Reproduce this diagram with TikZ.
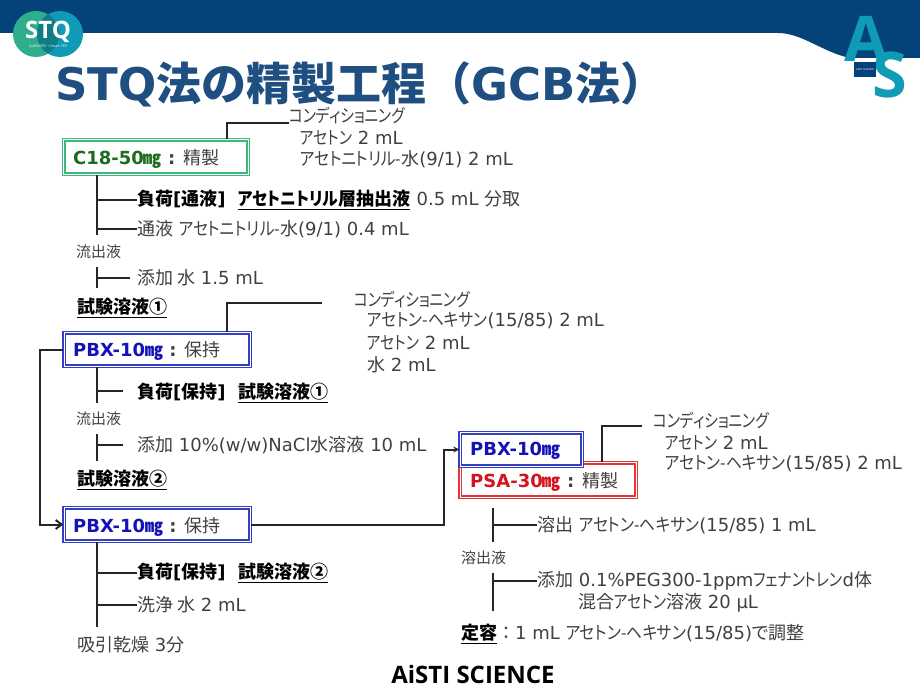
\documentclass[tikz,border=0pt]{standalone}
\usepackage{fontspec}
\usetikzlibrary{arrows.meta}
\setmainfont{DejaVu Sans}
\newfontfamily\jpfont{Noto Sans CJK JP}[RawFeature=+palt]
\newfontfamily\widefont{Noto Sans CJK JP}
\newfontfamily\kanafont{Noto Sans CJK JP}[RawFeature=+palt,FakeStretch=0.875]
\newfontfamily\narrowfont{Noto Sans CJK JP}[RawFeature=+palt,FakeStretch=0.82]
\newfontfamily\logofont{Open Sans}
\newcommand{\jp}[1]{{\jpfont #1}}
\newcommand{\jpw}[1]{{\widefont #1}}
\newcommand{\kn}[1]{{\kanafont #1}}
\newcommand{\knn}[1]{{\narrowfont #1}}
\definecolor{bandblue}{HTML}{04437A}
\definecolor{titleblue}{HTML}{1F4E80}
\definecolor{logoteal}{HTML}{0F9AB5}
\definecolor{logogreen}{HTML}{2FAE8E}
\definecolor{logodark}{HTML}{0E7C86}
\definecolor{boxgreen}{HTML}{3DB87E}
\definecolor{boxblue}{HTML}{3340C0}
\definecolor{boxred}{HTML}{E2363C}
\definecolor{txtgreen}{HTML}{1E6B1E}
\definecolor{txtblue}{HTML}{1414B4}
\definecolor{txtred}{HTML}{D41420}
\definecolor{txtgray}{HTML}{404040}
\tikzset{
  txt/.style={anchor=west,inner sep=0pt,text=txtgray,font=\fontsize{18}{20}\selectfont},
  small/.style={txt,font=\fontsize{15}{17}\selectfont},
  strong/.style={txt,text=black,font=\fontsize{18}{20}\selectfont\bfseries},
  colbox/.style={draw=#1,double=white,double distance=1pt,line width=1.4pt,fill=white,inner sep=0pt},
  conn/.style={line width=2pt,black!85},
  arra/.style={conn,-{Straight Barb[length=6pt,width=9pt]}},
  arrb/.style={conn,-{Stealth[length=6pt,width=6pt]}}
}
\begin{document}
\begin{tikzpicture}[x=1pt,y=-1pt]
  \useasboundingbox (0,0) rectangle (920,690);
  % Header
  \fill[bandblue] (0,0) -- (920,0) -- (920,58) -- (850,58) .. controls (822,52) and (802,33) .. (778,33) -- (0,33) -- cycle;
  \fill[logogreen] (36,34) circle (23);
  \fill[logoteal] (60,34) circle (23);
  \begin{scope}
    \clip (36,34) circle (23);
    \fill[logodark] (60,34) circle (23);
  \end{scope}
  \node[anchor=center,inner sep=0pt,text=white,font=\logofont\fontsize{24}{24}\selectfont\bfseries] (stq) at (48,32) {STQ};
  \node[anchor=center,inner sep=0pt,text=white,font=\logofont\fontsize{3.5}{4}\selectfont] (stqsub) at (48,46) {QuEChERS + Smart SPE};
  \node[anchor=base,inner sep=0pt,text=logoteal,font=\logofont\fontsize{63}{63}\selectfont\bfseries] (logoa) at (866,62) {A};
  \node[anchor=base,inner sep=0pt,text=logoteal,font=\logofont\fontsize{63}{63}\selectfont\bfseries] (logos) at (890,98) {S};
  \node[fill=bandblue,minimum width=22pt,minimum height=15pt,inner sep=0pt,text=white,font=\fontsize{2.5}{3}\selectfont] (logobox) at (865,69.5) {AISTI SCIENCE};
  \node[anchor=west,inner sep=0pt,text=titleblue,font=\fontsize{45}{50}\selectfont\bfseries] (title) at (55,84) {STQ\jpw{法の精製工程（}GCB\jpw{法）}};

  % Boxes
  \node[colbox=boxgreen,minimum width=184.5pt,minimum height=34.5pt] (c18) at (156,157) {};
  \node[colbox=boxblue,minimum width=186pt,minimum height=33.5pt] (pbxa) at (157,349.5) {};
  \node[colbox=boxblue,minimum width=186pt,minimum height=33.5pt] (pbxb) at (157,524.5) {};
  \node[colbox=boxred,minimum width=176pt,minimum height=34.5pt] (psa) at (548,480) {};
  \node[colbox=boxblue,minimum width=122pt,minimum height=33.5pt] (pbxc) at (521,449.5) {};
  \node[strong] (c18t) at (73,158.5) {\textcolor{txtgreen}{C18-50\jp{㎎}}\ \textcolor{txtgray}{:} \textcolor{txtgray}{\jp{\mdseries 精製}}};
  \node[strong] (pbxat) at (73,350.5) {\textcolor{txtblue}{PBX-10\jp{㎎}}\ \textcolor{txtgray}{:} \textcolor{txtgray}{\jp{\mdseries 保持}}};
  \node[strong] (pbxbt) at (73,526.5) {\textcolor{txtblue}{PBX-10\jp{㎎}}\ \textcolor{txtgray}{:} \textcolor{txtgray}{\jp{\mdseries 保持}}};
  \node[strong] (pbxct) at (470,450.5) {\textcolor{txtblue}{PBX-10\jp{㎎}}};
  \node[strong] (psat) at (470,481.5) {\textcolor{txtred}{PSA-30\jp{㎎}}\ \textcolor{txtgray}{:} \textcolor{txtgray}{\jp{\mdseries 精製}}};

  % Texts, first column
  \node[txt] (conda) at (289,116) {\knn{コンディショニング}};
  \node[txt] (condab) at (300,138) {\knn{アセトン} 2 mL};
  \node[txt] (condac) at (300,159) {\kn{アセトニトリル-}\jp{水}(9/1) 2 mL};
  \node[strong] (loada) at (137,200) {\jp{負荷}[\jp{通液}]\ \ \underline{\kn{アセトニトリル}\jp{層抽出液}} \textmd{\textcolor{txtgray}{0.5 mL \jp{分取}}}};
  \node[txt] (passa) at (137,229) {\jp{通液} \kn{アセトニトリル-}\jp{水}(9/1) 0.4 mL};
  \node[small] (outa) at (76,252) {\jp{流出液}};
  \node[txt] (adda) at (137,278) {\jp{添加 水} 1.5 mL};
  \node[strong] (sola) at (77,308) {\underline{\jp{試験溶液①}}};
  \node[txt] (condb) at (354,300) {\knn{コンディショニング}};
  \node[txt] (condbb) at (367,321) {\kn{アセトン-ヘキサン}(15/85) 2 mL};
  \node[txt] (condbc) at (367,343) {\knn{アセトン} 2 mL};
  \node[txt] (condbd) at (367,365) {\jp{水} 2 mL};
  \node[strong] (loadb) at (137,393) {\jp{負荷}[\jp{保持}]\ \ \underline{\jp{試験溶液①}}};
  \node[small] (outb) at (76,419) {\jp{流出液}};
  \node[txt] (addb) at (137,445) {\jp{添加} 10\%(w/w)NaCl\jp{水溶液} 10 mL};
  \node[strong] (solb) at (77,480) {\underline{\jp{試験溶液②}}};
  \node[strong] (loadc) at (137,573) {\jp{負荷}[\jp{保持}]\ \ \underline{\jp{試験溶液②}}};
  \node[txt] (wash) at (137,605) {\jp{洗浄 水} 2 mL};
  \node[txt] (dry) at (77,645) {\jp{吸引乾燥} 3\jp{分}};

  % Texts, right column
  \node[txt] (condc) at (653,421) {\knn{コンディショニング}};
  \node[txt] (condcb) at (665,443) {\knn{アセトン} 2 mL};
  \node[txt] (condcc) at (665,464) {\kn{アセトン-ヘキサン}(15/85) 2 mL};
  \node[txt] (elute) at (537,525) {\jp{溶出} \kn{アセトン-ヘキサン}(15/85) 1 mL};
  \node[small] (outc) at (461,558) {\jp{溶出液}};
  \node[txt] (addc) at (537,581) {\jp{添加} 0.1\%PEG300-1ppm\knn{フェナントレン}d\jp{体}};
  \node[txt] (addcb) at (578,603) {\jp{混合}\knn{アセトン}\jp{溶液} 20 μL};
  \node[txt] (fix) at (461,634) {\textcolor{black}{\textbf{\underline{\jp{定容}}}}\jpw{：}1 mL \kn{アセトン-ヘキサン}(15/85)\jp{で調整}};
  \node[inner sep=0pt,text=black,font=\logofont\fontsize{24}{26}\selectfont\bfseries] (brand) at (473,674) {AiSTI SCIENCE};

  % Connectors
  \coordinate (taila) at (97,235);
  \coordinate (tailb) at (97,288);
  \coordinate (headb) at (97,267);
  \coordinate (tailc) at (97,403);
  \coordinate (headd) at (97,434);
  \coordinate (taild) at (97,461);
  \coordinate (taile) at (97,627);
  \coordinate (headf) at (493,508);
  \coordinate (tailf) at (493,542);
  \coordinate (headg) at (493,573);
  \coordinate (tailg) at (493,611);
  \coordinate (topa) at (227,123);
  \coordinate (topb) at (227,303);
  \coordinate (topc) at (602,426);
  \coordinate (leftx) at (40,400);
  \coordinate (midx) at (444,500);
  \draw[conn] (c18.north -| topa) -- (topa) -- (conda.west |- topa);
  \draw[conn] (pbxa.north -| topb) -- (topb) -- (322,303);
  \draw[conn] (psa.north -| topc) -- (topc) -- (642,426);
  \draw[conn] (c18.south -| taila) -- (taila);
  \draw[conn] (loada.west -| taila) -- (loada.west);
  \draw[conn] (passa.west -| taila) -- (passa.west);
  \draw[conn] (headb) -- (tailb);
  \draw[conn] (adda.west -| headb) -- (130,278);
  \draw[conn] (pbxa.south -| tailc) -- (tailc);
  \draw[conn] (97,391) -- (123,391);
  \draw[conn] (headd) -- (taild);
  \draw[conn] (addb.west -| headd) -- (123,445);
  \draw[conn] (pbxb.south -| taile) -- (taile);
  \draw[conn] (loadc.west -| taile) -- (loadc.west);
  \draw[conn] (wash.west -| taile) -- (wash.west);
  \draw[conn] (headf) -- (tailf);
  \draw[conn] (elute.west -| headf) -- (elute.west);
  \draw[conn] (headg) -- (tailg);
  \draw[conn] (addc.west -| headg) -- (addc.west);
  \draw[arra] (pbxa.west) -- (pbxa.west -| leftx) -- (pbxb.west -| leftx) -- (pbxb.west);
  \draw[arrb] (pbxb.east) -- (pbxb.east -| midx) -- (pbxc.west -| midx) -- (pbxc.west);
\end{tikzpicture}
\end{document}
